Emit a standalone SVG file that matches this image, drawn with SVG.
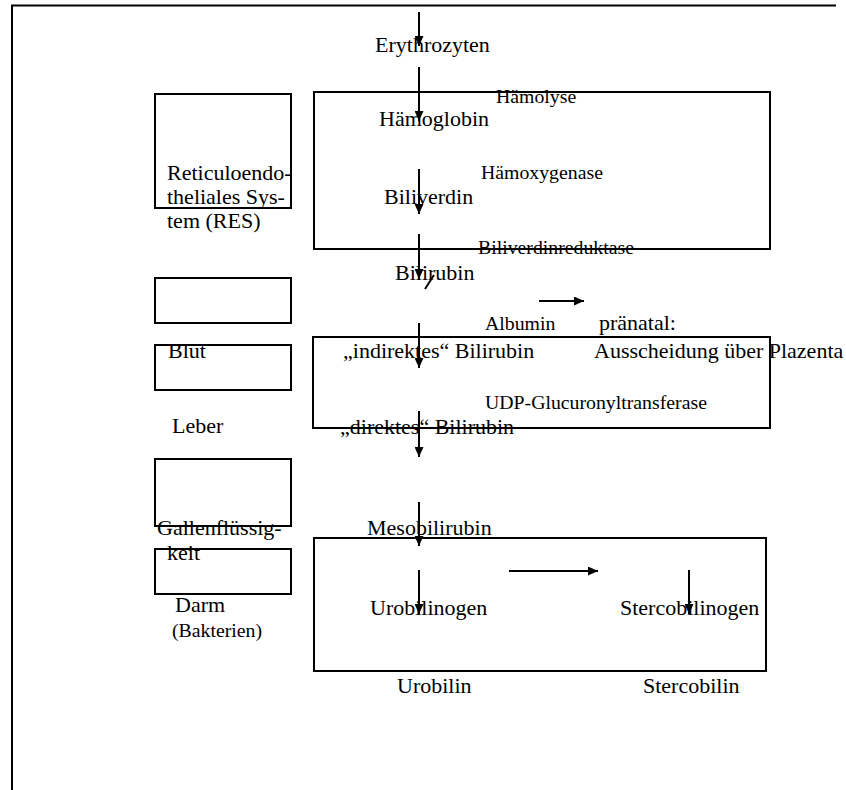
<svg xmlns="http://www.w3.org/2000/svg" width="846" height="790" viewBox="0 0 846 790">
<defs>
<style>
text{font-family:'Liberation Serif','Times New Roman','DejaVu Serif',serif;fill:#000}
.t{font-size:22px}
.s{font-size:19.8px}
.b{fill:none;stroke:#000;stroke-width:2}
.c{stroke:#000;stroke-width:2;fill:none}
.a{stroke:#000;stroke-width:2;fill:none;marker-end:url(#ah)}
</style>
<marker id="ah" viewBox="0 0 10 10" refX="10" refY="5" markerWidth="5" markerHeight="4.5" markerUnits="strokeWidth" orient="auto" preserveAspectRatio="none">
<path d="M0,0 L10,5 L0,10 Z" fill="#000"/>
</marker>
</defs>
<rect width="846" height="790" fill="#fff"/>
<g id="frame"><path class="c" d="M12,790 V5.5 H836"/></g>

<g id="box-res"><rect class="b" x="155" y="94" width="136" height="114"/></g>
<g id="box-main1"><rect class="b" x="314" y="92" width="456" height="157"/></g>
<g id="box-blut-top"><rect class="b" x="155" y="278" width="136" height="45"/></g>
<g id="box-blut"><rect class="b" x="155" y="345" width="136" height="45"/></g>
<g id="box-main2"><rect class="b" x="313" y="337" width="457" height="91"/></g>
<g id="box-galle"><rect class="b" x="155" y="459" width="136" height="67"/></g>
<g id="box-darm"><rect class="b" x="155" y="549" width="136" height="45"/></g>
<g id="box-main3"><rect class="b" x="314" y="538" width="452" height="133"/></g>

<g font-family="'Liberation Serif', serif">
<g id="lbl-erythrozyten"><text class="t" x="375" y="52">Erythrozyten</text></g>
<g id="lbl-haemolyse"><text class="s" x="496" y="103">Hämolyse</text></g>
<g id="lbl-haemoglobin"><text class="t" x="379" y="126">Hämoglobin</text></g>
<g id="lbl-haemoxygenase"><text class="s" x="481" y="179">Hämoxygenase</text></g>
<g id="lbl-biliverdin"><text class="t" x="384" y="204">Biliverdin</text></g>
<g id="lbl-res"><text class="t" x="167" y="180">Reticuloendo-</text><text class="t" x="167" y="204">theliales Sys-</text><text class="t" x="167" y="228">tem (RES)</text></g>
<g id="lbl-biliverdinreduktase"><text class="s" x="478" y="254">Biliverdinreduktase</text></g>
<g id="lbl-bilirubin"><text class="t" x="395" y="280">Bilirubin</text></g>
<g id="lbl-albumin"><text class="s" x="485" y="330">Albumin</text></g>
<g id="lbl-praenatal"><text class="t" x="599" y="330">pränatal:</text></g>
<g id="lbl-indirekt"><text class="t" x="343" y="358">„indirektes“ Bilirubin</text></g>
<g id="lbl-plazenta"><text class="t" x="594" y="358">Ausscheidung über Plazenta</text></g>
<g id="lbl-blut"><text class="t" x="168" y="358">Blut</text></g>
<g id="lbl-udp"><text class="s" x="485" y="409">UDP-Glucuronyltransferase</text></g>
<g id="lbl-leber"><text class="t" x="172" y="433">Leber</text></g>
<g id="lbl-direkt"><text class="t" x="340" y="434">„direktes“ Bilirubin</text></g>
<g id="lbl-mesobilirubin"><text class="t" x="367" y="535">Mesobilirubin</text></g>
<g id="lbl-galle"><text class="t" x="157" y="535">Gallenflüssig-</text><text class="t" x="167" y="560">keit</text></g>
<g id="lbl-darm"><text class="t" x="175" y="612">Darm</text><text class="s" x="172" y="637">(Bakterien)</text></g>
<g id="lbl-urobilinogen"><text class="t" x="370" y="615">Urobilinogen</text></g>
<g id="lbl-stercobilinogen"><text class="t" x="620" y="615">Stercobilinogen</text></g>
<g id="lbl-urobilin"><text class="t" x="397" y="693">Urobilin</text></g>
<g id="lbl-stercobilin"><text class="t" x="643" y="693">Stercobilin</text></g>
</g>

<g id="connectors">
<path class="a" d="M419,12 V46"/>
<path class="a" d="M419,67 V121"/>
<path class="a" d="M419,169 V214"/>
<path class="a" d="M419,234 V279"/>
<path class="c" d="M425,289 L434,275"/>
<path class="a" d="M539,301 H584"/>
<path class="a" d="M419,323 V368"/>
<path class="a" d="M419,411 V457"/>
<path class="a" d="M419,502 V546"/>
<path class="a" d="M419,570 V614"/>
<path class="a" d="M509,571 H598"/>
<path class="a" d="M689,570 V614"/>
</g>
</svg>
